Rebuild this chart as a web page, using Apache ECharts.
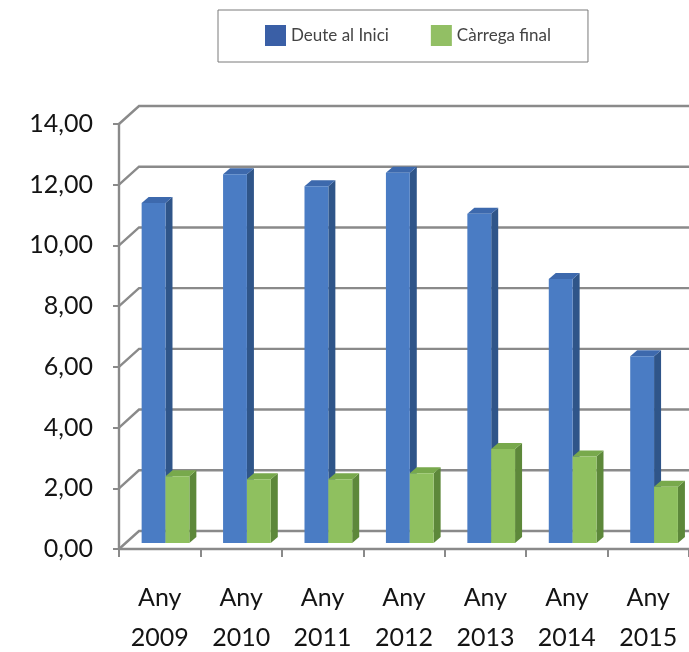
<!DOCTYPE html>
<html>
<head>
<meta charset="utf-8">
<script src="https://cdn.jsdelivr.net/npm/echarts@6/dist/echarts.min.js"></script>
<style>
html,body{margin:0;padding:0;background:#fff;}
#chart{width:689px;height:652px;}
</style>
</head>
<body>
<div id="chart"></div>
<script>
var categories = ['Any 2009','Any 2010','Any 2011','Any 2012','Any 2013','Any 2014','Any 2015'];
var deuteInici = [11.2, 12.15, 11.75, 12.2, 10.85, 8.7, 6.15];
var carregaFinal = [2.2, 2.1, 2.1, 2.3, 3.1, 2.85, 1.85];
var yTicks = [0, 2, 4, 6, 8, 10, 12, 14];

var chart = echarts.init(document.getElementById('chart'), null, {renderer: 'canvas'});

var WALL_DX = 20, WALL_DY = -18;
var BAR_DX = 7, BAR_DY = -6, BAR_LIFT = 6;

function wallRender(params, api) {
  var v = api.value(1);
  var p = api.coord([0, v]);
  var cw = api.size([1, 0])[0];
  var xL = p[0] - cw / 2;
  var xR = api.coord([categories.length - 1, v])[0] + cw / 2;
  var y = p[1];
  return {
    type: 'polyline',
    shape: {points: [[xL, y], [xL + WALL_DX, y + WALL_DY], [xR + 40, y + WALL_DY]]},
    style: {stroke: '#8a8a8a', lineWidth: 2.4, fill: null}
  };
}

function barRender(offsetFrac, front, side, topc) {
  return function (params, api) {
    var i = api.value(0), v = api.value(1);
    var t = api.coord([i, v]);
    var b = api.coord([i, 0]);
    var cw = api.size([1, 0])[0];
    var w = cw * 0.293;
    var x0 = t[0] + cw * offsetFrac;
    var x1 = x0 + w;
    var yT = t[1] - BAR_LIFT;
    var yB = b[1] - BAR_LIFT;
    return {
      type: 'group',
      children: [
        {type: 'polygon', shape: {points: [[x1, yT], [x1 + BAR_DX, yT + BAR_DY], [x1 + BAR_DX, yB + BAR_DY], [x1, yB]]}, style: {fill: side}},
        {type: 'polygon', shape: {points: [[x0, yT], [x0 + BAR_DX, yT + BAR_DY], [x1 + BAR_DX, yT + BAR_DY], [x1, yT]]}, style: {fill: topc}},
        {type: 'rect', shape: {x: x0, y: yT, width: w, height: yB - yT}, style: {fill: front}}
      ]
    };
  };
}

var option = {
  animation: false,
  backgroundColor: '#ffffff',
  legend: {
    left: 218,
    top: 10,
    padding: [15, 37, 16, 47],
    itemGap: 42,
    itemWidth: 21,
    itemHeight: 21,
    borderColor: '#7a7a7a',
    borderWidth: 1,
    icon: 'rect',
    textStyle: {fontFamily: 'Lato', fontSize: 17, color: '#444', padding: [0, 0, 0, 0]},
    data: [
      {name: 'Deute al Inici', itemStyle: {color: '#3a5fa6'}},
      {name: 'Càrrega final', itemStyle: {color: '#92bf64'}}
    ]
  },
  grid: {left: 119, right: 0, top: 124, bottom: 103, containLabel: false, outerBoundsMode: 'none'},
  xAxis: {
    type: 'category',
    data: categories,
    boundaryGap: true,
    axisLine: {show: true, lineStyle: {color: '#8a8a8a', width: 2.4}},
    axisTick: {show: true, length: 8, lineStyle: {color: '#8a8a8a', width: 2}},
    axisLabel: {
      margin: 29,
      fontFamily: 'Lato',
      fontSize: 25,
      lineHeight: 40,
      color: '#141414',
      formatter: function (s) { return s.replace(' ', '\n'); }
    },
    splitLine: {show: false}
  },
  yAxis: {
    type: 'value',
    min: 0,
    max: 14,
    interval: 2,
    axisLine: {show: true, lineStyle: {color: '#8a8a8a', width: 2.4}},
    axisTick: {show: true, length: 6, lineStyle: {color: '#8a8a8a', width: 2}},
    axisLabel: {
      margin: 26,
      fontFamily: 'Lato',
      fontSize: 25,
      color: '#141414',
      formatter: function (v) { return v.toFixed(2).replace('.', ','); }
    },
    splitLine: {show: false}
  },
  series: [
    {
      type: 'custom',
      name: 'walls',
      silent: true,
      z: 1,
      renderItem: wallRender,
      data: yTicks.map(function (v) { return [0, v]; }),
      encode: {x: 0, y: 1}
    },
    {
      type: 'custom',
      name: 'Deute al Inici',
      z: 2,
      itemStyle: {color: '#3a5fa6'},
      renderItem: barRender(-0.222, '#4a7cc4', '#2f5589', '#3d69ad'),
      data: deuteInici.map(function (v, i) { return [i, v]; }),
      encode: {x: 0, y: 1}
    },
    {
      type: 'custom',
      name: 'Càrrega final',
      z: 3,
      itemStyle: {color: '#92bf64'},
      renderItem: barRender(0.071, '#8fc05f', '#5d883a', '#78a94c'),
      data: carregaFinal.map(function (v, i) { return [i, v]; }),
      encode: {x: 0, y: 1}
    }
  ]
};
chart.setOption(option);
</script>
</body>
</html>
